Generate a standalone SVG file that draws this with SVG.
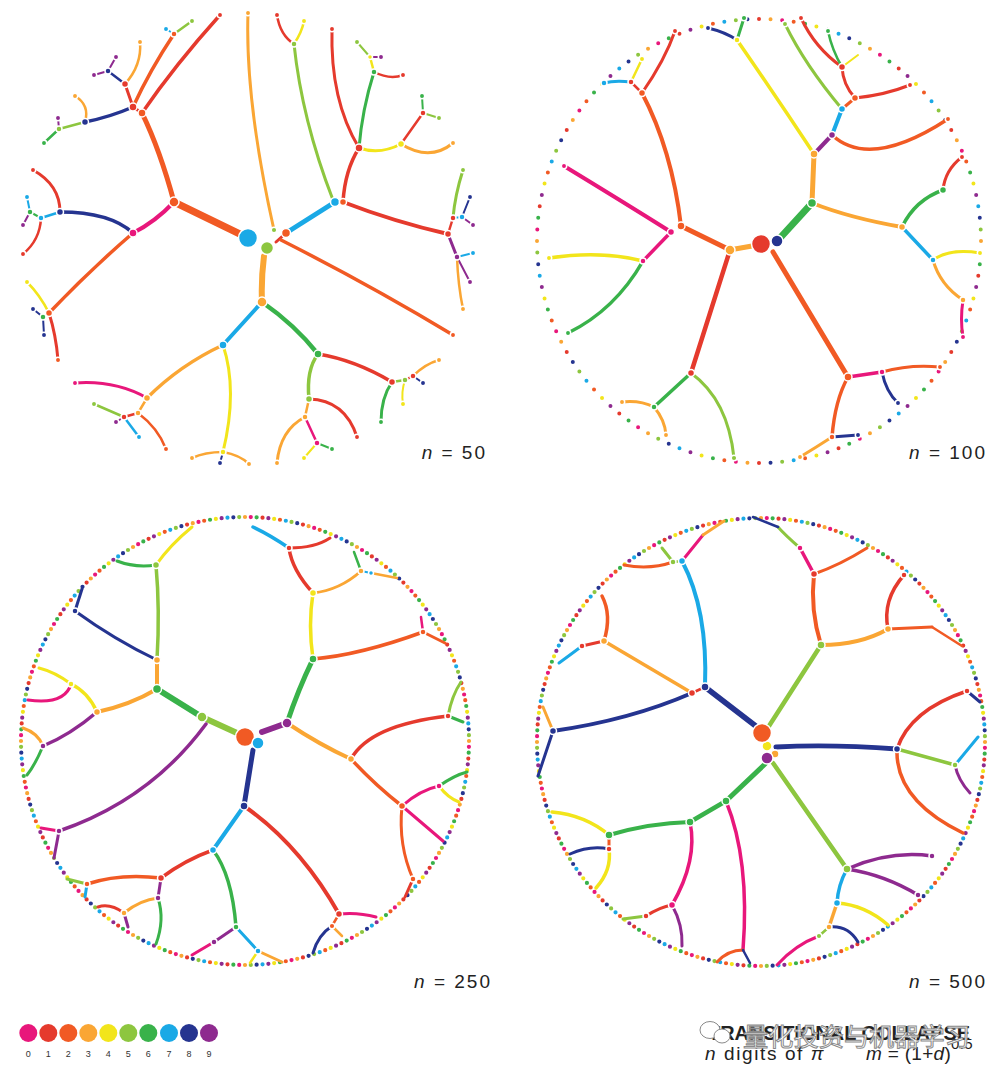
<svg xmlns="http://www.w3.org/2000/svg" width="1000" height="1083" viewBox="0 0 1000 1083">
<style>
.e{fill:none;stroke-linecap:round}
.k0{stroke:#e8177b}.k1{stroke:#e53a2d}.k2{stroke:#f15a24}.k3{stroke:#faa634}.k4{stroke:#f2e51b}
.k5{stroke:#8dc63f}.k6{stroke:#39b24a}.k7{stroke:#1aa9e6}.k8{stroke:#253490}.k9{stroke:#8e2a8f}
.f0{fill:#e8177b}.f1{fill:#e53a2d}.f2{fill:#f15a24}.f3{fill:#faa634}.f4{fill:#f2e51b}
.f5{fill:#8dc63f}.f6{fill:#39b24a}.f7{fill:#1aa9e6}.f8{fill:#253490}.f9{fill:#8e2a8f}
.nodes circle{stroke:#fff;stroke-width:1.5}
.rg{fill:none;stroke-linecap:round;stroke-width:4.2}
.rs{stroke-width:4}
.d0{stroke:#e8177b;stroke-dasharray:0 11 0 9;stroke-dashoffset:-1}
.d1{stroke:#e53a2d;stroke-dasharray:0 7 0 13;stroke-dashoffset:-3}
.d2{stroke:#f15a24;stroke-dasharray:0 7 0 13;stroke-dashoffset:-6}
.d3{stroke:#faa634;stroke-dasharray:0 11 0 9;stroke-dashoffset:0}
.d4{stroke:#f2e51b;stroke-dasharray:0 10 0 10;stroke-dashoffset:-5}
.d5{stroke:#8dc63f;stroke-dasharray:0 11 0 9;stroke-dashoffset:-8}
.d6{stroke:#39b24a;stroke-dasharray:0 12 0 8;stroke-dashoffset:-2}
.d7{stroke:#1aa9e6;stroke-dasharray:0 10 0 10;stroke-dashoffset:-7}
.d8{stroke:#253490;stroke-dasharray:0 9 0 11;stroke-dashoffset:-9}
.d9{stroke:#8e2a8f;stroke-dasharray:0 12 0 8;stroke-dashoffset:-4}
.lab{font-family:"Liberation Sans",Arial,sans-serif;font-size:19px;letter-spacing:2px;fill:#222}
.leg{font-family:"Liberation Sans",Arial,sans-serif;font-size:9px;fill:#333;text-anchor:middle}
.cap{font-family:"Liberation Sans",Arial,sans-serif;fill:#222}
</style>
<rect width="1000" height="1083" fill="#fff"/>

<!-- ===================== PANEL n=50 ===================== -->
<g id="panel-50">
<g id="p1-connectors">
<path class="e k2" stroke-width="7" d="M244,236 L174,202"/>
<path class="e k2" stroke-width="5" d="M174,202 Q160,150 142,113"/>
<path class="e k1" stroke-width="3.5" d="M142,113 Q175,65 220,15"/>
<path class="e k1" stroke-width="3" d="M142,113 L133,107"/>
<path class="e k2" stroke-width="3.5" d="M133,107 Q150,70 174,34"/>
<path class="e k7" stroke-width="2" d="M174,34 L166,29"/>
<path class="e k5" stroke-width="2.5" d="M174,34 L192,21"/>
<path class="e k1" stroke-width="3" d="M133,107 L125,84"/>
<path class="e k3" stroke-width="2.5" d="M125,84 Q142,65 140,42"/>
<path class="e k8" stroke-width="2.5" d="M125,84 L108,71"/>
<path class="e k9" stroke-width="2" d="M108,71 L116,57"/>
<path class="e k9" stroke-width="2" d="M108,71 L94,75"/>
<path class="e k8" stroke-width="3.5" d="M133,107 Q110,117 85,122"/>
<path class="e k3" stroke-width="2.5" d="M85,122 Q90,105 75,96"/>
<path class="e k5" stroke-width="2.5" d="M85,122 L59,129"/>
<path class="e k6" stroke-width="2.5" d="M59,129 L44,143"/>
<path class="e k9" stroke-width="2" d="M59,129 L58,118"/>
<path class="e k0" stroke-width="4" d="M174,202 Q155,222 133,233"/>
<path class="e k8" stroke-width="3.5" d="M133,233 Q110,212 60,212"/>
<path class="e k1" stroke-width="3" d="M60,212 Q60,185 33,170"/>
<path class="e k7" stroke-width="2.5" d="M60,212 L41,218"/>
<path class="e k1" stroke-width="2.5" d="M41,218 Q40,240 23,254"/>
<path class="e k6" stroke-width="2" d="M41,218 L30,212"/>
<path class="e k7" stroke-width="2" d="M30,212 L27,197"/>
<path class="e k9" stroke-width="2" d="M30,212 L23,225"/>
<path class="e k2" stroke-width="3.5" d="M133,233 Q90,270 49,313"/>
<path class="e k1" stroke-width="3" d="M49,313 Q56,335 58,360"/>
<path class="e k4" stroke-width="2.5" d="M49,313 Q40,295 27,282"/>
<path class="e k6" stroke-width="2" d="M49,313 L43,317"/>
<path class="e k8" stroke-width="2" d="M43,317 L44,335"/>
<path class="e k8" stroke-width="2" d="M43,317 L33,309"/>
<path class="e k3" stroke-width="6" d="M264,256 Q261,280 262,302"/>
<path class="e k7" stroke-width="4" d="M262,302 L223,345"/>
<path class="e k3" stroke-width="3.5" d="M223,345 Q180,365 147,398"/>
<path class="e k0" stroke-width="3" d="M147,398 Q115,380 75,383"/>
<path class="e k3" stroke-width="2.5" d="M147,398 L138,413"/>
<path class="e k1" stroke-width="2.5" d="M138,413 L124,417"/>
<path class="e k5" stroke-width="2.5" d="M124,417 L94,404"/>
<path class="e k9" stroke-width="2" d="M124,417 L116,422"/>
<path class="e k7" stroke-width="2.5" d="M124,417 L139,437"/>
<path class="e k2" stroke-width="2.5" d="M138,413 Q158,428 166,449"/>
<path class="e k4" stroke-width="3" d="M223,345 Q238,390 223,452"/>
<path class="e k3" stroke-width="2.5" d="M223,452 Q205,452 192,458"/>
<path class="e k3" stroke-width="2.5" d="M223,452 Q240,455 249,464"/>
<path class="e k8" stroke-width="2" d="M223,452 L220,463"/>
<path class="e k6" stroke-width="4.5" d="M262,302 Q295,325 318,354"/>
<path class="e k1" stroke-width="3.5" d="M318,354 Q355,360 392,382"/>
<path class="e k6" stroke-width="3" d="M392,382 Q381,398 381,422"/>
<path class="e k5" stroke-width="2.5" d="M392,382 L405,380"/>
<path class="e k4" stroke-width="2" d="M405,380 Q401,392 403,404"/>
<path class="e k1" stroke-width="2.5" d="M405,380 L413,376"/>
<path class="e k3" stroke-width="2.5" d="M413,376 Q425,364 439,360"/>
<path class="e k8" stroke-width="2" d="M413,376 L423,383"/>
<path class="e k5" stroke-width="3.5" d="M318,354 Q306,370 309,399"/>
<path class="e k1" stroke-width="3" d="M309,399 Q345,400 357,437"/>
<path class="e k3" stroke-width="2.5" d="M309,399 L305,417"/>
<path class="e k3" stroke-width="3" d="M305,417 Q280,430 277,463"/>
<path class="e k0" stroke-width="2.5" d="M305,417 L317,443"/>
<path class="e k4" stroke-width="2" d="M317,443 L304,458"/>
<path class="e k6" stroke-width="2" d="M317,443 L332,449"/>
<path class="e k3" stroke-width="3" d="M274,230 Q245,100 248,13"/>
<path class="e k1" stroke-width="3" d="M276,242 L286,233"/>
<path class="e k7" stroke-width="5" d="M286,233 L335,202"/>
<path class="e k5" stroke-width="3" d="M333,200 Q302,120 294,44"/>
<path class="e k1" stroke-width="2.5" d="M294,44 Q280,35 277,15"/>
<path class="e k4" stroke-width="2.5" d="M294,44 Q302,32 304,21"/>
<path class="e k1" stroke-width="3.5" d="M343,202 Q345,170 359,148"/>
<path class="e k1" stroke-width="3" d="M359,148 Q330,100 332,29"/>
<path class="e k6" stroke-width="3" d="M359,148 Q362,110 374,72"/>
<path class="e k1" stroke-width="2.5" d="M374,72 Q390,80 403,75"/>
<path class="e k4" stroke-width="2.5" d="M374,72 L370,57"/>
<path class="e k5" stroke-width="2" d="M370,57 L357,42"/>
<path class="e k9" stroke-width="2" d="M370,57 L381,57"/>
<path class="e k4" stroke-width="3" d="M359,148 Q380,155 401,144"/>
<path class="e k3" stroke-width="3" d="M401,144 Q430,162 453,143"/>
<path class="e k1" stroke-width="2.5" d="M401,144 L423,113"/>
<path class="e k6" stroke-width="2" d="M423,113 L422,96"/>
<path class="e k5" stroke-width="2" d="M423,113 L439,118"/>
<path class="e k1" stroke-width="4" d="M343,202 Q395,222 448,234"/>
<path class="e k5" stroke-width="3" d="M453,218 Q455,195 463,170"/>
<path class="e k1" stroke-width="2.5" d="M448,234 L453,218"/>
<path class="e k7" stroke-width="2" d="M453,218 L462,217"/>
<path class="e k8" stroke-width="2" d="M462,217 L470,197"/>
<path class="e k9" stroke-width="2" d="M462,217 L473,225"/>
<path class="e k9" stroke-width="3" d="M448,234 L457,257"/>
<path class="e k7" stroke-width="2" d="M457,257 L473,253"/>
<path class="e k9" stroke-width="2" d="M457,257 L470,282"/>
<path class="e k3" stroke-width="2.5" d="M457,257 Q458,285 463,309"/>
<path class="e k2" stroke-width="3.5" d="M281,240 Q370,285 453,335"/>
</g>
<g id="p1-nodes" class="nodes">
<circle id="p1-root" cx="248" cy="238" r="9.5" class="f7"/>
<circle cx="267" cy="248" r="6.5" class="f5"/>
<circle cx="286" cy="233" r="4.5" class="f2"/>
<circle cx="274" cy="230" r="2.8" class="f5"/>
<circle cx="174" cy="202" r="5" class="f2"/>
<circle cx="142" cy="113" r="4" class="f2"/>
<circle cx="133" cy="107" r="4" class="f1"/>
<circle cx="174" cy="34" r="3" class="f2"/>
<circle cx="125" cy="84" r="3.5" class="f1"/>
<circle cx="108" cy="71" r="3" class="f8"/>
<circle cx="85" cy="122" r="3.5" class="f8"/>
<circle cx="59" cy="129" r="3" class="f5"/>
<circle cx="133" cy="233" r="4" class="f0"/>
<circle cx="60" cy="212" r="3.5" class="f8"/>
<circle cx="41" cy="218" r="3" class="f7"/>
<circle cx="30" cy="212" r="3" class="f6"/>
<circle cx="49" cy="313" r="3.5" class="f2"/>
<circle cx="43" cy="317" r="3" class="f6"/>
<circle cx="262" cy="302" r="5" class="f3"/>
<circle cx="223" cy="345" r="4" class="f7"/>
<circle cx="147" cy="398" r="3.5" class="f3"/>
<circle cx="138" cy="413" r="3" class="f3"/>
<circle cx="124" cy="417" r="3" class="f1"/>
<circle cx="223" cy="452" r="3" class="f4"/>
<circle cx="318" cy="354" r="4" class="f6"/>
<circle cx="392" cy="382" r="3.5" class="f1"/>
<circle cx="405" cy="380" r="3" class="f5"/>
<circle cx="413" cy="376" r="3" class="f1"/>
<circle cx="309" cy="399" r="3.5" class="f5"/>
<circle cx="305" cy="417" r="3" class="f3"/>
<circle cx="317" cy="443" r="3" class="f0"/>
<circle cx="335" cy="202" r="4.5" class="f7"/>
<circle cx="343" cy="202" r="3.5" class="f2"/>
<circle cx="294" cy="44" r="3" class="f5"/>
<circle cx="359" cy="148" r="4" class="f1"/>
<circle cx="374" cy="72" r="3" class="f6"/>
<circle cx="370" cy="57" r="2.5" class="f4"/>
<circle cx="401" cy="144" r="3.5" class="f4"/>
<circle cx="423" cy="113" r="3" class="f1"/>
<circle cx="448" cy="234" r="3.5" class="f1"/>
<circle cx="453" cy="218" r="3" class="f1"/>
<circle cx="462" cy="217" r="3" class="f7"/>
<circle cx="457" cy="257" r="3" class="f9"/>
<circle cx="220" cy="15" r="2.7" class="f1"/><circle cx="166" cy="29" r="2.7" class="f7"/><circle cx="192" cy="21" r="2.7" class="f5"/>
<circle cx="140" cy="42" r="2.7" class="f3"/><circle cx="116" cy="57" r="2.7" class="f9"/><circle cx="94" cy="75" r="2.7" class="f9"/>
<circle cx="75" cy="96" r="2.7" class="f3"/><circle cx="58" cy="118" r="2.7" class="f9"/><circle cx="44" cy="143" r="2.7" class="f6"/>
<circle cx="33" cy="170" r="2.7" class="f1"/><circle cx="27" cy="197" r="2.7" class="f7"/><circle cx="23" cy="225" r="2.7" class="f9"/>
<circle cx="23" cy="254" r="2.7" class="f1"/><circle cx="27" cy="282" r="2.7" class="f4"/><circle cx="33" cy="309" r="2.7" class="f8"/>
<circle cx="44" cy="335" r="2.7" class="f8"/><circle cx="58" cy="360" r="2.7" class="f2"/><circle cx="75" cy="383" r="2.7" class="f0"/>
<circle cx="94" cy="404" r="2.7" class="f5"/><circle cx="116" cy="422" r="2.7" class="f9"/><circle cx="139" cy="437" r="2.7" class="f7"/>
<circle cx="166" cy="449" r="2.7" class="f2"/><circle cx="192" cy="458" r="2.7" class="f3"/><circle cx="249" cy="464" r="2.7" class="f3"/>
<circle cx="220" cy="463" r="2.7" class="f8"/><circle cx="277" cy="463" r="2.7" class="f3"/><circle cx="304" cy="458" r="2.7" class="f4"/>
<circle cx="332" cy="449" r="2.7" class="f6"/><circle cx="357" cy="437" r="2.7" class="f1"/><circle cx="381" cy="422" r="2.7" class="f6"/>
<circle cx="403" cy="404" r="2.7" class="f4"/><circle cx="439" cy="360" r="2.7" class="f3"/><circle cx="423" cy="383" r="2.7" class="f8"/>
<circle cx="453" cy="335" r="2.7" class="f2"/><circle cx="463" cy="309" r="2.7" class="f3"/><circle cx="470" cy="282" r="2.7" class="f9"/>
<circle cx="473" cy="253" r="2.7" class="f7"/><circle cx="473" cy="225" r="2.7" class="f9"/><circle cx="470" cy="197" r="2.7" class="f8"/>
<circle cx="463" cy="170" r="2.7" class="f5"/><circle cx="453" cy="143" r="2.7" class="f3"/><circle cx="439" cy="118" r="2.7" class="f5"/>
<circle cx="422" cy="96" r="2.7" class="f6"/><circle cx="403" cy="75" r="2.7" class="f1"/><circle cx="357" cy="42" r="2.7" class="f5"/>
<circle cx="381" cy="57" r="2.7" class="f9"/><circle cx="332" cy="29" r="2.7" class="f1"/><circle cx="304" cy="21" r="2.7" class="f4"/>
<circle cx="277" cy="15" r="2.7" class="f1"/><circle cx="248" cy="13" r="2.7" class="f3"/>
</g>
<text class="lab" x="487" y="459" text-anchor="end"><tspan font-style="italic">n</tspan> = 50</text>
</g>

<!-- ===================== PANEL n=100 ===================== -->
<g id="panel-100">
<g id="p2-rim">
<circle cx="759" cy="241" r="222" pathLength="120" class="rg rs d0"/><circle cx="759" cy="241" r="222" pathLength="120" class="rg rs d1"/>
<circle cx="759" cy="241" r="222" pathLength="120" class="rg rs d2"/><circle cx="759" cy="241" r="222" pathLength="120" class="rg rs d3"/>
<circle cx="759" cy="241" r="222" pathLength="120" class="rg rs d4"/><circle cx="759" cy="241" r="222" pathLength="120" class="rg rs d5"/>
<circle cx="759" cy="241" r="222" pathLength="120" class="rg rs d6"/><circle cx="759" cy="241" r="222" pathLength="120" class="rg rs d7"/>
<circle cx="759" cy="241" r="222" pathLength="120" class="rg rs d8"/><circle cx="759" cy="241" r="222" pathLength="120" class="rg rs d9"/>
</g>
<g id="p2-connectors">
<path class="e k6" stroke-width="7" d="M780,238 L812,203"/>
<path class="e k3" stroke-width="5" d="M812,203 Q813,180 814,154"/>
<path class="e k4" stroke-width="3.5" d="M814,154 Q775,95 737,40"/>
<path class="e k6" stroke-width="3" d="M737,40 L744,18"/>
<path class="e k8" stroke-width="3" d="M737,40 Q725,32 708,28"/>
<path class="e k9" stroke-width="4" d="M814,154 L832,135"/>
<path class="e k7" stroke-width="4" d="M832,135 L842,109"/>
<path class="e k5" stroke-width="3" d="M842,109 Q805,65 785,24"/>
<path class="e k2" stroke-width="3" d="M842,109 L855,98"/>
<path class="e k1" stroke-width="3" d="M855,98 Q843,85 842,67"/>
<path class="e k1" stroke-width="3" d="M842,67 Q815,48 801,18"/>
<path class="e k6" stroke-width="2.5" d="M842,67 Q832,50 828,31"/>
<path class="e k4" stroke-width="2" d="M842,67 L858,55"/>
<path class="e k1" stroke-width="3" d="M855,98 Q885,95 910,85"/>
<path class="e k2" stroke-width="3.5" d="M832,135 Q870,170 948,119"/>
<path class="e k3" stroke-width="4" d="M812,203 Q850,218 902,227"/>
<path class="e k6" stroke-width="3.5" d="M902,227 Q915,200 943,190"/>
<path class="e k1" stroke-width="3" d="M943,190 Q945,170 962,157"/>
<path class="e k7" stroke-width="3.5" d="M902,227 L933,260"/>
<path class="e k4" stroke-width="3" d="M933,260 Q950,248 980,253"/>
<path class="e k3" stroke-width="3" d="M933,260 Q940,285 963,300"/>
<path class="e k0" stroke-width="3" d="M963,300 Q960,320 963,337"/>
<path class="e k2" stroke-width="5" d="M773,252 L848,377"/>
<path class="e k0" stroke-width="3.5" d="M848,377 L882,372"/>
<path class="e k2" stroke-width="3" d="M882,372 Q910,364 940,367"/>
<path class="e k8" stroke-width="3" d="M882,372 Q886,392 898,403"/>
<path class="e k2" stroke-width="3.5" d="M848,377 Q835,400 832,437"/>
<path class="e k8" stroke-width="3" d="M832,437 L858,435"/>
<path class="e k3" stroke-width="3" d="M832,437 Q815,448 800,457"/>
<path class="e k3" stroke-width="5" d="M752,246 L735,249"/>
<path class="e k2" stroke-width="5" d="M730,250 L681,226"/>
<path class="e k2" stroke-width="4" d="M681,226 Q672,150 642,93"/>
<path class="e k1" stroke-width="3" d="M642,93 Q665,60 675,31"/>
<path class="e k1" stroke-width="2.5" d="M642,93 L631,82"/>
<path class="e k7" stroke-width="3" d="M631,82 Q615,80 604,83"/>
<path class="e k4" stroke-width="2.5" d="M631,82 L642,59"/>
<path class="e k0" stroke-width="4" d="M671,232 Q620,200 564,166"/>
<path class="e k0" stroke-width="3.5" d="M671,232 L643,261"/>
<path class="e k4" stroke-width="3.5" d="M643,261 Q600,250 549,258"/>
<path class="e k6" stroke-width="3.5" d="M643,261 Q615,310 568,333"/>
<path class="e k1" stroke-width="4.5" d="M730,250 L691,373"/>
<path class="e k6" stroke-width="3.5" d="M691,373 L654,407"/>
<path class="e k3" stroke-width="3" d="M654,407 Q640,400 622,402"/>
<path class="e k3" stroke-width="3" d="M654,407 Q665,420 666,435"/>
<path class="e k5" stroke-width="3" d="M691,373 Q728,400 734,458"/>
</g>
<g id="p2-nodes" class="nodes">
<circle id="p2-root" cx="761" cy="244" r="9.5" class="f1"/>
<circle cx="777" cy="241" r="6" class="f8"/>
<circle cx="730" cy="250" r="5" class="f3"/>
<circle cx="812" cy="203" r="4.5" class="f6"/>
<circle cx="814" cy="154" r="4" class="f3"/>
<circle cx="737" cy="40" r="3" class="f4"/>
<circle cx="744" cy="18" r="2.8" class="f6"/>
<circle cx="832" cy="135" r="3.5" class="f9"/>
<circle cx="842" cy="109" r="3.5" class="f7"/>
<circle cx="855" cy="98" r="3.5" class="f2"/>
<circle cx="842" cy="67" r="3.5" class="f1"/>
<circle cx="902" cy="227" r="3.5" class="f3"/>
<circle cx="943" cy="190" r="3.5" class="f6"/>
<circle cx="933" cy="260" r="3" class="f7"/>
<circle cx="963" cy="300" r="3" class="f3"/>
<circle cx="848" cy="377" r="4" class="f2"/>
<circle cx="882" cy="372" r="3" class="f0"/>
<circle cx="832" cy="437" r="3" class="f2"/>
<circle cx="681" cy="226" r="4" class="f2"/>
<circle cx="671" cy="232" r="3.5" class="f0"/>
<circle cx="642" cy="93" r="3.5" class="f2"/>
<circle cx="631" cy="82" r="3" class="f1"/>
<circle cx="604" cy="83" r="3" class="f7"/>
<circle cx="643" cy="261" r="3" class="f0"/>
<circle cx="691" cy="373" r="3.5" class="f1"/>
<circle cx="654" cy="407" r="3" class="f6"/>
<circle cx="734" cy="458" r="2.8" class="f5"/>
<circle cx="708" cy="28" r="2.7" class="f8"/><circle cx="785" cy="24" r="2.7" class="f5"/><circle cx="801" cy="18" r="2.7" class="f1"/>
<circle cx="828" cy="31" r="2.7" class="f6"/><circle cx="910" cy="85" r="2.7" class="f1"/><circle cx="948" cy="119" r="2.7" class="f2"/>
<circle cx="962" cy="157" r="2.7" class="f1"/><circle cx="980" cy="253" r="2.7" class="f4"/><circle cx="963" cy="337" r="2.7" class="f0"/>
<circle cx="940" cy="367" r="2.7" class="f2"/><circle cx="898" cy="403" r="2.7" class="f8"/><circle cx="858" cy="435" r="2.7" class="f8"/>
<circle cx="800" cy="457" r="2.7" class="f3"/><circle cx="666" cy="435" r="2.7" class="f3"/><circle cx="622" cy="402" r="2.7" class="f3"/>
<circle cx="568" cy="333" r="2.7" class="f6"/><circle cx="549" cy="258" r="2.7" class="f4"/><circle cx="564" cy="166" r="2.7" class="f0"/>
<circle cx="642" cy="59" r="2.7" class="f4"/><circle cx="675" cy="31" r="2.7" class="f1"/>
</g>
<text class="lab" x="987" y="459" text-anchor="end"><tspan font-style="italic">n</tspan> = 100</text>
</g>

<!-- ===================== PANEL n=250 ===================== -->
<g id="panel-250">
<g id="p3-rim">
<circle cx="245" cy="741" r="224" pathLength="240" class="rg d0"/><circle cx="245" cy="741" r="224" pathLength="240" class="rg d1"/>
<circle cx="245" cy="741" r="224" pathLength="240" class="rg d2"/><circle cx="245" cy="741" r="224" pathLength="240" class="rg d3"/>
<circle cx="245" cy="741" r="224" pathLength="240" class="rg d4"/><circle cx="245" cy="741" r="224" pathLength="240" class="rg d5"/>
<circle cx="245" cy="741" r="224" pathLength="240" class="rg d6"/><circle cx="245" cy="741" r="224" pathLength="240" class="rg d7"/>
<circle cx="245" cy="741" r="224" pathLength="240" class="rg d8"/><circle cx="245" cy="741" r="224" pathLength="240" class="rg d9"/>
</g>
<g id="p3-connectors">
<path class="e k5" stroke-width="6" d="M237,733 L202,717"/>
<path class="e k6" stroke-width="6" d="M202,717 L157,689"/>
<path class="e k3" stroke-width="4" d="M157,689 L157,660"/>
<path class="e k5" stroke-width="3.5" d="M157,660 Q160,610 156,565"/>
<path class="e k4" stroke-width="3" d="M156,565 Q170,545 192,527"/>
<path class="e k6" stroke-width="3" d="M156,565 Q135,568 117,561"/>
<path class="e k8" stroke-width="3" d="M157,660 Q115,640 75,611"/>
<path class="e k8" stroke-width="3" d="M75,611 L82,589"/>
<path class="e k3" stroke-width="4" d="M157,689 Q130,705 97,712"/>
<path class="e k4" stroke-width="3.5" d="M97,712 Q88,692 71,684"/>
<path class="e k4" stroke-width="3" d="M71,684 Q55,672 39,668"/>
<path class="e k0" stroke-width="3" d="M71,684 Q65,705 28,700"/>
<path class="e k9" stroke-width="3.5" d="M97,712 Q70,735 43,746"/>
<path class="e k3" stroke-width="3" d="M43,746 Q38,733 23,728"/>
<path class="e k6" stroke-width="3" d="M43,746 Q35,765 27,775"/>
<path class="e k9" stroke-width="3.5" d="M206,724 Q150,800 59,831"/>
<path class="e k9" stroke-width="3" d="M59,831 L54,858"/>
<path class="e k0" stroke-width="3" d="M59,831 L41,828"/>
<path class="e k9" stroke-width="6" d="M262,732 L287,723"/>
<path class="e k6" stroke-width="5" d="M287,723 Q298,690 313,659"/>
<path class="e k4" stroke-width="3.5" d="M313,659 Q308,625 313,593"/>
<path class="e k1" stroke-width="3.5" d="M313,593 Q292,570 289,548"/>
<path class="e k7" stroke-width="3.5" d="M289,548 Q270,535 253,527"/>
<path class="e k1" stroke-width="3" d="M289,548 Q315,548 330,538"/>
<path class="e k3" stroke-width="3" d="M313,593 Q340,590 361,571"/>
<path class="e k6" stroke-width="2.5" d="M361,571 L354,552"/>
<path class="e k7" stroke-width="2" d="M361,571 L371,573"/>
<path class="e k3" stroke-width="2.5" d="M371,573 L397,578"/>
<path class="e k2" stroke-width="3.5" d="M313,659 Q360,655 423,632"/>
<path class="e k2" stroke-width="3" d="M423,632 L445,643"/>
<path class="e k0" stroke-width="2.5" d="M423,632 L421,617"/>
<path class="e k3" stroke-width="4" d="M287,723 Q320,745 351,759"/>
<path class="e k1" stroke-width="3.5" d="M351,759 Q370,725 448,716"/>
<path class="e k6" stroke-width="3" d="M448,716 L463,722"/>
<path class="e k5" stroke-width="3" d="M448,716 Q452,695 461,682"/>
<path class="e k2" stroke-width="3.5" d="M351,759 Q375,785 402,806"/>
<path class="e k0" stroke-width="3" d="M402,806 Q420,790 439,786"/>
<path class="e k6" stroke-width="3" d="M439,786 Q455,775 467,772"/>
<path class="e k4" stroke-width="3" d="M439,786 Q448,798 459,802"/>
<path class="e k0" stroke-width="3" d="M402,806 L443,841"/>
<path class="e k2" stroke-width="3" d="M402,806 Q398,845 413,879"/>
<path class="e k1" stroke-width="3" d="M413,879 L405,897"/>
<path class="e k8" stroke-width="5" d="M253,750 L244,806"/>
<path class="e k7" stroke-width="4" d="M244,806 L213,850"/>
<path class="e k1" stroke-width="3.5" d="M213,850 Q185,860 161,878"/>
<path class="e k2" stroke-width="3.5" d="M161,878 Q120,873 87,884"/>
<path class="e k5" stroke-width="3" d="M87,884 L67,879"/>
<path class="e k7" stroke-width="3" d="M87,884 L85,897"/>
<path class="e k9" stroke-width="3" d="M161,878 L158,898"/>
<path class="e k3" stroke-width="3" d="M158,898 Q140,900 124,913"/>
<path class="e k1" stroke-width="3" d="M124,913 Q110,903 98,907"/>
<path class="e k9" stroke-width="3" d="M124,913 L128,927"/>
<path class="e k6" stroke-width="3" d="M158,898 Q165,920 156,944"/>
<path class="e k6" stroke-width="3.5" d="M213,850 Q232,875 236,927"/>
<path class="e k9" stroke-width="3" d="M236,927 L214,942"/>
<path class="e k0" stroke-width="3" d="M214,942 L192,955"/>
<path class="e k7" stroke-width="3" d="M236,927 L258,951"/>
<path class="e k3" stroke-width="3" d="M258,951 L282,962"/>
<path class="e k4" stroke-width="2.5" d="M258,951 L250,963"/>
<path class="e k1" stroke-width="4" d="M244,806 Q300,845 339,914"/>
<path class="e k0" stroke-width="3" d="M339,914 Q358,912 376,917"/>
<path class="e k2" stroke-width="2.5" d="M339,914 L332,926"/>
<path class="e k8" stroke-width="3" d="M332,926 Q318,935 313,953"/>
<path class="e k3" stroke-width="2.5" d="M332,926 L342,936"/>
</g>
<g id="p3-nodes" class="nodes">
<circle id="p3-root" cx="245" cy="737" r="9.5" class="f2"/>
<circle cx="258" cy="743" r="6" class="f7"/>
<circle cx="287" cy="723" r="5" class="f9"/>
<circle cx="202" cy="717" r="5" class="f5"/>
<circle cx="157" cy="689" r="4.5" class="f6"/>
<circle cx="157" cy="660" r="3.5" class="f3"/>
<circle cx="156" cy="565" r="3.5" class="f5"/>
<circle cx="75" cy="611" r="3" class="f8"/>
<circle cx="97" cy="712" r="3.5" class="f3"/>
<circle cx="71" cy="684" r="3" class="f4"/>
<circle cx="43" cy="746" r="3" class="f9"/>
<circle cx="59" cy="831" r="3" class="f9"/>
<circle cx="313" cy="659" r="4" class="f6"/>
<circle cx="313" cy="593" r="3.5" class="f4"/>
<circle cx="289" cy="548" r="3" class="f1"/>
<circle cx="361" cy="571" r="3" class="f3"/>
<circle cx="371" cy="573" r="2.5" class="f7"/>
<circle cx="423" cy="632" r="3" class="f2"/>
<circle cx="351" cy="759" r="3.5" class="f3"/>
<circle cx="448" cy="716" r="3" class="f1"/>
<circle cx="402" cy="806" r="3.5" class="f2"/>
<circle cx="439" cy="786" r="3" class="f0"/>
<circle cx="413" cy="879" r="3" class="f2"/>
<circle cx="244" cy="806" r="4" class="f8"/>
<circle cx="213" cy="850" r="3.5" class="f7"/>
<circle cx="161" cy="878" r="3.5" class="f1"/>
<circle cx="87" cy="884" r="3" class="f2"/>
<circle cx="158" cy="898" r="3" class="f9"/>
<circle cx="124" cy="913" r="3" class="f3"/>
<circle cx="236" cy="927" r="3" class="f6"/>
<circle cx="214" cy="942" r="3" class="f9"/>
<circle cx="258" cy="951" r="3" class="f7"/>
<circle cx="339" cy="914" r="3.5" class="f1"/>
<circle cx="332" cy="926" r="2.8" class="f2"/>
</g>
<text class="lab" x="492" y="988" text-anchor="end"><tspan font-style="italic">n</tspan> = 250</text>
</g>

<!-- ===================== PANEL n=500 ===================== -->
<g id="panel-500">
<g id="p4-rim">
<circle cx="761" cy="742" r="224" pathLength="240" class="rg d0"/><circle cx="761" cy="742" r="224" pathLength="240" class="rg d1"/>
<circle cx="761" cy="742" r="224" pathLength="240" class="rg d2"/><circle cx="761" cy="742" r="224" pathLength="240" class="rg d3"/>
<circle cx="761" cy="742" r="224" pathLength="240" class="rg d4"/><circle cx="761" cy="742" r="224" pathLength="240" class="rg d5"/>
<circle cx="761" cy="742" r="224" pathLength="240" class="rg d6"/><circle cx="761" cy="742" r="224" pathLength="240" class="rg d7"/>
<circle cx="761" cy="742" r="224" pathLength="240" class="rg d8"/><circle cx="761" cy="742" r="224" pathLength="240" class="rg d9"/>
</g>
<g id="p4-connectors">
<path class="e k8" stroke-width="5.5" d="M757,727 L705,687"/>
<path class="e k7" stroke-width="4" d="M705,687 Q708,610 682,561"/>
<path class="e k5" stroke-width="2.5" d="M682,561 L673,562"/>
<path class="e k5" stroke-width="3" d="M673,562 L662,548"/>
<path class="e k0" stroke-width="3" d="M682,561 L703,535"/>
<path class="e k3" stroke-width="3" d="M703,535 L724,521"/>
<path class="e k2" stroke-width="3" d="M673,562 Q650,570 624,565"/>
<path class="e k1" stroke-width="3" d="M705,687 L692,693"/>
<path class="e k3" stroke-width="3.5" d="M692,693 L604,641"/>
<path class="e k2" stroke-width="3.5" d="M604,641 Q612,615 602,596"/>
<path class="e k1" stroke-width="3" d="M604,641 L582,646"/>
<path class="e k7" stroke-width="3" d="M582,646 Q570,655 559,663"/>
<path class="e k8" stroke-width="4" d="M692,693 Q630,720 553,731"/>
<path class="e k3" stroke-width="3" d="M553,731 L543,707"/>
<path class="e k8" stroke-width="3" d="M553,731 Q545,755 538,776"/>
<path class="e k5" stroke-width="4.5" d="M769,726 L821,645"/>
<path class="e k2" stroke-width="4" d="M821,645 Q810,610 814,574"/>
<path class="e k0" stroke-width="3.5" d="M814,574 L800,548"/>
<path class="e k5" stroke-width="3" d="M800,548 Q785,535 778,527"/>
<path class="e k8" stroke-width="2.5" d="M778,527 L753,517"/>
<path class="e k2" stroke-width="3" d="M814,574 Q840,565 867,548"/>
<path class="e k3" stroke-width="4" d="M821,645 Q860,645 888,629"/>
<path class="e k1" stroke-width="3.5" d="M888,629 Q882,600 904,575"/>
<path class="e k2" stroke-width="3" d="M888,629 L932,627"/>
<path class="e k2" stroke-width="2.5" d="M932,627 L962,646"/>
<path class="e k8" stroke-width="5" d="M776,747 Q830,744 897,749"/>
<path class="e k1" stroke-width="3.5" d="M897,749 Q910,710 967,691"/>
<path class="e k8" stroke-width="3" d="M967,691 L980,702"/>
<path class="e k5" stroke-width="3.5" d="M897,749 L955,765"/>
<path class="e k7" stroke-width="3" d="M955,765 L978,737"/>
<path class="e k9" stroke-width="3" d="M955,765 Q958,780 970,793"/>
<path class="e k2" stroke-width="3.5" d="M897,749 Q895,800 963,833"/>
<path class="e k6" stroke-width="5" d="M765,764 L726,801"/>
<path class="e k6" stroke-width="4.5" d="M726,801 L690,822"/>
<path class="e k6" stroke-width="4" d="M690,822 Q650,823 609,835"/>
<path class="e k4" stroke-width="3.5" d="M609,835 Q585,815 552,812"/>
<path class="e k2" stroke-width="3" d="M609,835 L609,849"/>
<path class="e k8" stroke-width="3" d="M609,849 Q590,845 570,854"/>
<path class="e k4" stroke-width="3.5" d="M609,849 Q612,870 596,888"/>
<path class="e k0" stroke-width="3.5" d="M690,822 Q698,860 672,905"/>
<path class="e k1" stroke-width="3" d="M672,905 Q660,907 646,916"/>
<path class="e k5" stroke-width="3" d="M646,916 L623,919"/>
<path class="e k9" stroke-width="3" d="M672,905 Q683,925 682,946"/>
<path class="e k0" stroke-width="3.5" d="M726,801 Q750,860 743,950"/>
<path class="e k2" stroke-width="3" d="M743,950 Q728,950 717,962"/>
<path class="e k8" stroke-width="2.5" d="M743,950 L750,963"/>
<path class="e k5" stroke-width="4.5" d="M773,763 L847,869"/>
<path class="e k9" stroke-width="3.5" d="M847,869 Q890,850 932,856"/>
<path class="e k9" stroke-width="3.5" d="M847,869 Q885,875 918,895"/>
<path class="e k7" stroke-width="3.5" d="M847,869 Q838,885 837,903"/>
<path class="e k4" stroke-width="3.5" d="M837,903 Q865,905 888,925"/>
<path class="e k3" stroke-width="3.5" d="M837,903 L829,927"/>
<path class="e k8" stroke-width="3" d="M829,927 Q848,925 858,942"/>
<path class="e k5" stroke-width="2.5" d="M829,927 L819,936"/>
<path class="e k0" stroke-width="3" d="M819,936 Q795,945 777,965"/>
</g>
<g id="p4-nodes" class="nodes">
<circle cx="767" cy="746" r="5" class="f4"/>
<circle cx="775" cy="754" r="4" class="f3"/>
<circle id="p4-root" cx="762" cy="733" r="9.5" class="f2"/>
<circle cx="767" cy="758" r="6" class="f9"/>
<circle cx="705" cy="687" r="4" class="f8"/>
<circle cx="682" cy="561" r="3.5" class="f7"/>
<circle cx="673" cy="562" r="3" class="f5"/>
<circle cx="692" cy="693" r="3.5" class="f1"/>
<circle cx="604" cy="641" r="3.5" class="f3"/>
<circle cx="582" cy="646" r="3" class="f1"/>
<circle cx="553" cy="731" r="3.5" class="f8"/>
<circle cx="821" cy="645" r="4" class="f5"/>
<circle cx="814" cy="574" r="3.5" class="f1"/>
<circle cx="800" cy="548" r="3" class="f0"/>
<circle cx="888" cy="629" r="3.5" class="f3"/>
<circle cx="904" cy="575" r="3" class="f1"/>
<circle cx="897" cy="749" r="3.5" class="f8"/>
<circle cx="967" cy="691" r="3" class="f1"/>
<circle cx="955" cy="765" r="3" class="f5"/>
<circle cx="726" cy="801" r="4" class="f6"/>
<circle cx="690" cy="822" r="4" class="f6"/>
<circle cx="609" cy="835" r="4" class="f6"/>
<circle cx="609" cy="849" r="3" class="f1"/>
<circle cx="672" cy="905" r="3.5" class="f0"/>
<circle cx="646" cy="916" r="3" class="f1"/>
<circle cx="847" cy="869" r="4" class="f5"/>
<circle cx="932" cy="856" r="3" class="f9"/>
<circle cx="918" cy="895" r="3" class="f9"/>
<circle cx="837" cy="903" r="3.5" class="f7"/>
<circle cx="829" cy="927" r="3" class="f3"/>
<circle cx="819" cy="936" r="2.8" class="f5"/>
</g>
<text class="lab" x="987" y="988" text-anchor="end"><tspan font-style="italic">n</tspan> = 500</text>
</g>

<!-- ===================== LEGEND ===================== -->
<g id="legend">
<circle cx="28.3" cy="1033" r="9" class="f0"/><circle cx="48.3" cy="1033" r="9" class="f1"/>
<circle cx="68.3" cy="1033" r="9" class="f2"/><circle cx="88.3" cy="1033" r="9" class="f3"/>
<circle cx="108.3" cy="1033" r="9" class="f4"/><circle cx="128.3" cy="1033" r="9" class="f5"/>
<circle cx="148.3" cy="1033" r="9" class="f6"/><circle cx="169" cy="1033" r="9" class="f7"/>
<circle cx="189" cy="1033" r="9" class="f8"/><circle cx="209" cy="1033" r="9" class="f9"/>
<text class="leg" x="28.3" y="1057">0</text><text class="leg" x="48.3" y="1057">1</text>
<text class="leg" x="68.3" y="1057">2</text><text class="leg" x="88.3" y="1057">3</text>
<text class="leg" x="108.3" y="1057">4</text><text class="leg" x="128.3" y="1057">5</text>
<text class="leg" x="148.3" y="1057">6</text><text class="leg" x="169" y="1057">7</text>
<text class="leg" x="189" y="1057">8</text><text class="leg" x="209" y="1057">9</text>
</g>

<!-- ===================== CAPTION ===================== -->
<g id="caption">
<text class="cap" x="708" y="1040" font-size="20.5" font-weight="bold" textLength="262" lengthAdjust="spacingAndGlyphs">TRANSITIONAL COLLAPSE</text>
<text class="cap" x="705" y="1060" font-size="19" letter-spacing="1.6"><tspan font-style="italic">n</tspan> digits of <tspan font-style="italic">π</tspan></text>
<text class="cap" x="866" y="1060" font-size="19" letter-spacing="0.3"><tspan font-style="italic">m</tspan> = (1+<tspan font-style="italic">d</tspan>)<tspan font-size="15" dy="-11">0.5</tspan></text>
<g id="watermark" fill="#fff" stroke="#8a8a8a" stroke-width="1">
<ellipse cx="710" cy="1030" rx="10" ry="8.5"/>
<ellipse cx="722" cy="1036" rx="8" ry="7"/>
<text x="743" y="1046" font-family="'Noto Sans CJK SC',sans-serif" font-size="25" textLength="227" lengthAdjust="spacingAndGlyphs">量化投资与机器学习</text>
</g>
</g>
</svg>
